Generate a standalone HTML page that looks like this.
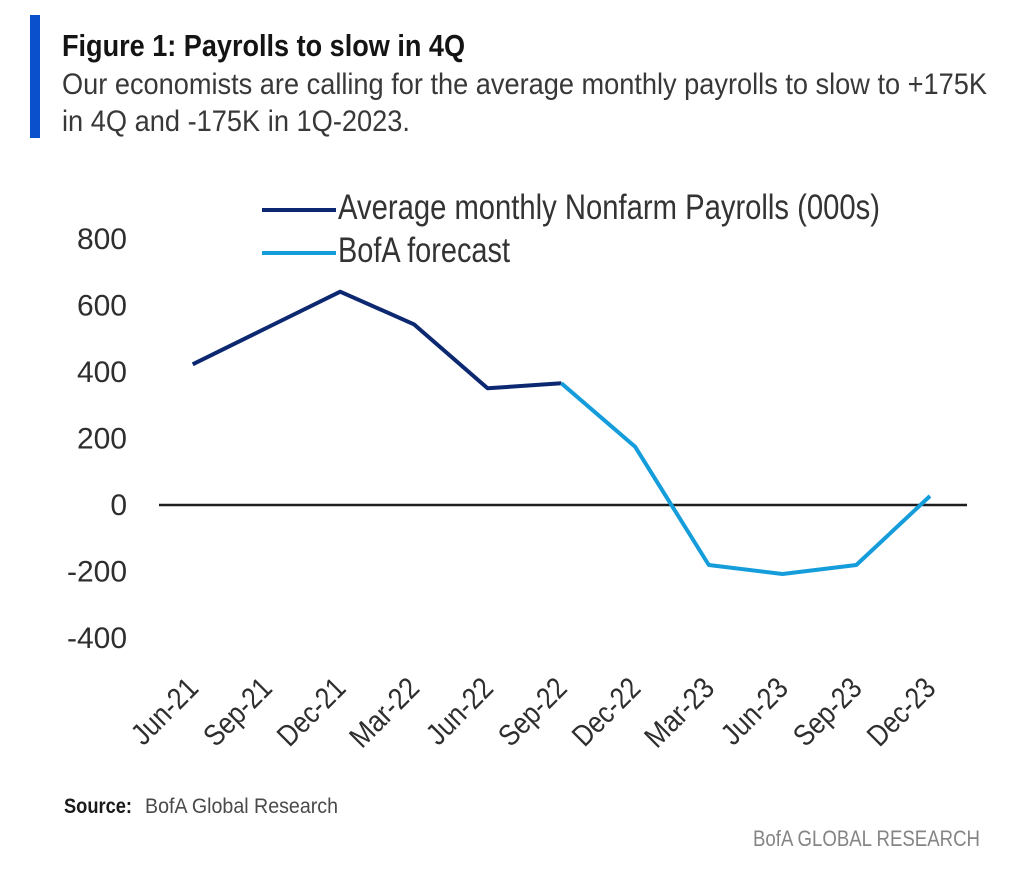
<!DOCTYPE html>
<html>
<head>
<meta charset="utf-8">
<style>
  html, body { margin:0; padding:0; background:#ffffff; }
  body { width:1029px; height:884px; overflow:hidden; }
  svg { display:block; }
  text { font-family: "Liberation Sans", "DejaVu Sans", sans-serif; }
</style>
</head>
<body>
<svg width="1029" height="884" viewBox="0 0 1029 884" xmlns="http://www.w3.org/2000/svg">
  <rect x="0" y="0" width="1029" height="884" fill="#ffffff"/>

  <!-- Blue accent bar -->
  <rect x="30" y="15" width="10" height="123" fill="#0a50cc"/>

  <!-- Title -->
  <text x="62" y="56" font-size="31" font-weight="bold" fill="#141414" textLength="403" lengthAdjust="spacingAndGlyphs">Figure 1: Payrolls to slow in 4Q</text>
  <text x="62" y="94" font-size="30" fill="#383838" textLength="925" lengthAdjust="spacingAndGlyphs">Our economists are calling for the average monthly payrolls to slow to +175K</text>
  <text x="62" y="131" font-size="30" fill="#383838" textLength="348" lengthAdjust="spacingAndGlyphs">in 4Q and -175K in 1Q-2023.</text>

  <!-- Legend -->
  <line x1="262" y1="210" x2="336" y2="210" stroke="#0c2870" stroke-width="4"/>
  <line x1="262" y1="253" x2="336" y2="253" stroke="#159ddb" stroke-width="4"/>
  <text x="338" y="219" font-size="35" fill="#333333" textLength="542" lengthAdjust="spacingAndGlyphs">Average monthly Nonfarm Payrolls (000s)</text>
  <text x="338" y="262" font-size="35" fill="#333333" textLength="172" lengthAdjust="spacingAndGlyphs">BofA forecast</text>

  <!-- Y axis labels -->
  <g font-size="30" fill="#2e2e2e" text-anchor="end">
    <text x="127" y="249">800</text>
    <text x="127" y="315.5">600</text>
    <text x="127" y="382">400</text>
    <text x="127" y="448.5">200</text>
    <text x="127" y="515">0</text>
    <text x="127" y="581.5">-200</text>
    <text x="127" y="648">-400</text>
  </g>

  <!-- Zero line -->
  <line x1="159" y1="505" x2="967" y2="505" stroke="#1e1e1e" stroke-width="2.5"/>

  <!-- Actual series -->
  <polyline fill="none" stroke="#0c2870" stroke-width="4" stroke-linejoin="round" stroke-linecap="butt"
    points="192.7,364.3 266.4,328 340.2,291.7 413.9,324.3 487.6,388.3 561.4,383.3"/>
  <!-- Forecast series -->
  <polyline fill="none" stroke="#159ddb" stroke-width="4" stroke-linejoin="round" stroke-linecap="butt"
    points="561.4,383.3 635.1,446.7 708.8,565 782.5,574 856.3,565 930,496"/>

  <!-- X axis labels -->
  <g font-size="30" fill="#2e2e2e" text-anchor="end">
    <text transform="translate(200,690) rotate(-45)" textLength="80" lengthAdjust="spacingAndGlyphs">Jun-21</text>
    <text transform="translate(273.7,690) rotate(-45)" textLength="82" lengthAdjust="spacingAndGlyphs">Sep-21</text>
    <text transform="translate(347.4,690) rotate(-45)" textLength="82" lengthAdjust="spacingAndGlyphs">Dec-21</text>
    <text transform="translate(421.1,690) rotate(-45)" textLength="84" lengthAdjust="spacingAndGlyphs">Mar-22</text>
    <text transform="translate(494.9,690) rotate(-45)" textLength="80" lengthAdjust="spacingAndGlyphs">Jun-22</text>
    <text transform="translate(568.6,690) rotate(-45)" textLength="82" lengthAdjust="spacingAndGlyphs">Sep-22</text>
    <text transform="translate(642.3,690) rotate(-45)" textLength="82" lengthAdjust="spacingAndGlyphs">Dec-22</text>
    <text transform="translate(716.1,690) rotate(-45)" textLength="84" lengthAdjust="spacingAndGlyphs">Mar-23</text>
    <text transform="translate(789.8,690) rotate(-45)" textLength="80" lengthAdjust="spacingAndGlyphs">Jun-23</text>
    <text transform="translate(863.5,690) rotate(-45)" textLength="82" lengthAdjust="spacingAndGlyphs">Sep-23</text>
    <text transform="translate(937.3,690) rotate(-45)" textLength="82" lengthAdjust="spacingAndGlyphs">Dec-23</text>
  </g>

  <!-- Source -->
  <text x="64" y="813" font-size="21" font-weight="bold" fill="#1a1a1a" textLength="68" lengthAdjust="spacingAndGlyphs">Source:</text>
  <text x="145" y="813" font-size="21" fill="#4a4a4a" textLength="193" lengthAdjust="spacingAndGlyphs">BofA Global Research</text>

  <!-- Footer -->
  <text x="753" y="846" font-size="22" fill="#858585" textLength="227" lengthAdjust="spacingAndGlyphs">BofA GLOBAL RESEARCH</text>
</svg>
</body>
</html>
